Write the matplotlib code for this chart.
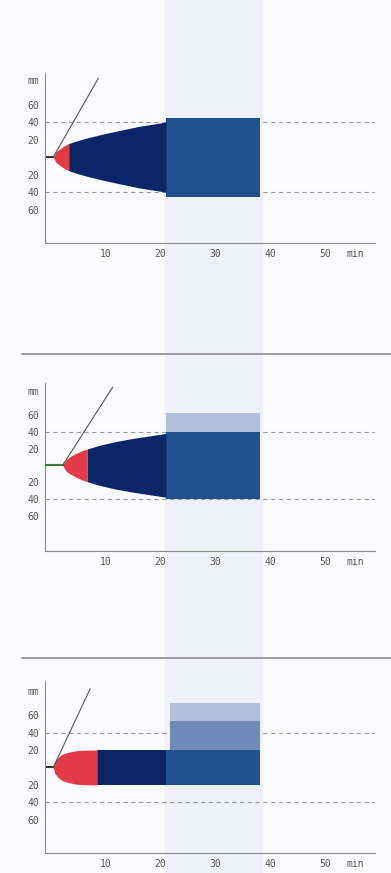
import matplotlib.pyplot as plt
from matplotlib.patches import Rectangle

# x in min, half-height in mm
p1_red_x = [0.5, 1.0, 1.6, 2.4, 3.3]
p1_red_h = [0, 6, 9, 12.5, 15.5]
p1_body_x = [3.3, 5, 7, 10, 13, 16, 19, 21]
p1_body_h = [15.5, 19, 22.5, 27, 31, 35, 38, 40]
p1_blocks = [(21, 38, -45, 45, 'mid')]
p1_line = ([0.5, 8.7], [0, 90])
p1_stub = ([-0.6, 0.5], [0, 0])

p2_red_x = [2.2, 2.8, 3.6, 4.6, 5.6, 6.7]
p2_red_h = [0, 6.5, 10.5, 14, 17, 19.5]
p2_body_x = [6.7, 9, 12, 15, 18, 21]
p2_body_h = [19.5, 24, 28.5, 32, 35, 38]
p2_blocks = [(21, 38, -40, 40, 'mid'), (21, 38, 40, 62, 'light')]
p2_line = ([2.2, 11.3], [0, 93])
p2_stub = ([-1, 2.2], [0, 0])

p3_red_x = [0.5, 0.8, 1.3, 2, 3, 4.5, 6, 8.5]
p3_red_h = [0, 7, 11, 14.5, 17, 19, 19.8, 20]
p3_body_x = [8.5, 21]
p3_body_h = [20, 20]
p3_blocks = [(21, 38, -20, 20, 'mid'), (21.8, 38, 20, 53, 'pale'), (21.8, 38, 53, 74, 'light')]
p3_line = ([0.5, 7.2], [0, 90])
p3_stub = ([-0.6, 0.5], [0, 0])

yticks = [88, 60, 40, 20, -20, -40, -60]
ylabels = ['mm', '60', '40', '20', '20', '40', '60']
xticks = [10, 20, 30, 40, 50, 55.5]
xlabels = ['10', '20', '30', '40', '50', 'min']

colors = {'red': '#e23a48', 'navy': '#0c2566', 'mid': '#21508f',
          'pale': '#6f8bb8', 'light': '#b3c0d8'}

fig = plt.figure(figsize=(3.91, 8.73), dpi=100, facecolor='#fbfbfd')
# pale scan band behind everything
fig.patches.append(Rectangle((165/391, 0), 97/391, 1, transform=fig.transFigure,
                             color='#f0f0f8', zorder=-5))
for yy in [1 - 354/873, 1 - 658/873]:
    fig.add_artist(plt.Line2D([22/391, 1], [yy, yy], color='#8a8a90', lw=1.2))

panels = [
    ([45/391, 1 - 243/873, 330/391, 170/873], (-98, 96),
     p1_red_x, p1_red_h, p1_body_x, p1_body_h, p1_blocks, p1_line, p1_stub, '#333333'),
    ([45/391, 1 - 551/873, 330/391, 168/873], (-102, 98),
     p2_red_x, p2_red_h, p2_body_x, p2_body_h, p2_blocks, p2_line, p2_stub, '#3b7a3b'),
    ([45/391, 1 - 853/873, 330/391, 172/873], (-98, 99),
     p3_red_x, p3_red_h, p3_body_x, p3_body_h, p3_blocks, p3_line, p3_stub, '#333333'),
]

for pos, ylim, rx, rh, bx, bh, blocks, line, stub, stubc in panels:
    ax = fig.add_axes(pos)
    ax.set_facecolor('none')
    ax.set_xlim(-1, 59)
    ax.set_ylim(*ylim)
    for x0, x1, y0, y1, shade in blocks:
        ax.bar(x0, y1 - y0, width=x1 - x0, bottom=y0, align='edge',
               color=colors[shade], lw=0, zorder=2)
    ax.fill_between(bx, [-h for h in bh], bh, color=colors['navy'], lw=0, zorder=3)
    ax.fill_between(rx, [-h for h in rh], rh, color=colors['red'], lw=0, zorder=3)
    ax.plot(stub[0], stub[1], color=stubc, lw=1.5, zorder=4)
    ax.plot(line[0], line[1], color='#555555', lw=0.8, zorder=4)
    for yv in [40, -40]:
        ax.axhline(yv, color='#9a9aa2', lw=0.8, ls=(0, (4, 3)), zorder=1)
    ax.set_yticks(yticks)
    ax.set_yticklabels(ylabels)
    ax.set_xticks(xticks)
    ax.set_xticklabels(xlabels)
    ax.tick_params(length=0, labelsize=7, colors='#555555', pad=4)
    for lab in ax.get_xticklabels() + ax.get_yticklabels():
        lab.set_family('DejaVu Sans Mono')
    for s in ['top', 'right']:
        ax.spines[s].set_visible(False)
    for s in ['left', 'bottom']:
        ax.spines[s].set_color('#8a8a8a')
        ax.spines[s].set_linewidth(0.8)

fig.savefig('out.png', dpi=100, facecolor=fig.get_facecolor())
